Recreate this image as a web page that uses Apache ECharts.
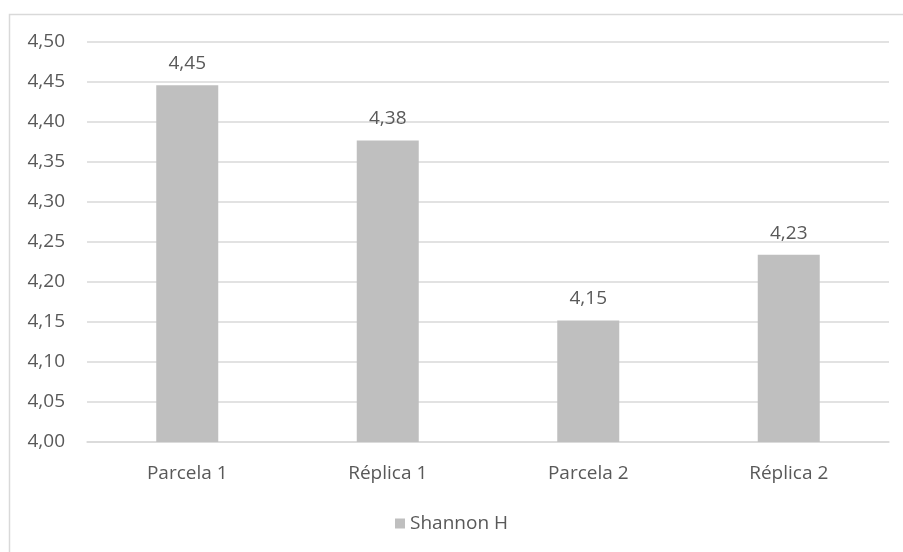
<!DOCTYPE html>
<html>
<head>
<meta charset="utf-8">
<script src="https://cdn.jsdelivr.net/npm/echarts@6/dist/echarts.min.js"></script>
<style>
  html, body { margin: 0; padding: 0; background: #ffffff; }
  #chart { width: 903px; height: 552px; }
</style>
</head>
<body>
<div id="chart"></div>
<script>
// Shannon diversity index per plot and replicate
const categories = ['Parcela 1', 'Réplica 1', 'Parcela 2', 'Réplica 2'];
const shannonH = [4.446, 4.377, 4.152, 4.234];
const seriesName = 'Shannon H';
const yMin = 4.0;
const yMax = 4.5;
const yStep = 0.05;

const fmt = v => v.toFixed(2).replace('.', ',');
const FONT = '"Open Sans", "Noto Sans", sans-serif';
const TEXT = '#595959';

const chart = echarts.init(document.getElementById('chart'), null, { renderer: 'canvas' });
chart.setOption({
  animation: false,
  backgroundColor: '#ffffff',
  graphic: [{
    type: 'rect',
    shape: { x: 9.5, y: 14.5, width: 920, height: 560 },
    style: { fill: 'none', stroke: '#d9d9d9', lineWidth: 1.5 },
    silent: true
  }],
  grid: { left: 87, right: 14, top: 42, bottom: 110, containLabel: false },
  legend: {
    data: [seriesName],
    top: 509,
    left: 'center',
    icon: 'rect',
    itemWidth: 10,
    itemHeight: 10,
    itemGap: 6,
    textStyle: { color: TEXT, fontSize: 19, fontFamily: FONT }
  },
  xAxis: {
    type: 'category',
    data: categories,
    axisLine: { show: true, lineStyle: { color: '#d9d9d9', width: 1.5 } },
    axisTick: { show: false },
    axisLabel: { color: TEXT, fontSize: 19, fontFamily: FONT, margin: 22 }
  },
  yAxis: {
    type: 'value',
    min: yMin,
    max: yMax,
    interval: yStep,
    axisLine: { show: false },
    axisTick: { show: false },
    splitLine: { lineStyle: { color: '#d9d9d9', width: 1.5 } },
    axisLabel: { color: TEXT, fontSize: 19, fontFamily: FONT, margin: 22, formatter: fmt }
  },
  series: [{
    name: seriesName,
    type: 'bar',
    data: shannonH,
    barWidth: 62,
    itemStyle: { color: '#bfbfbf' },
    label: {
      show: true,
      position: 'top',
      distance: 12,
      color: TEXT,
      fontSize: 19,
      fontFamily: FONT,
      formatter: p => fmt(p.value)
    }
  }]
});
</script>
</body>
</html>
